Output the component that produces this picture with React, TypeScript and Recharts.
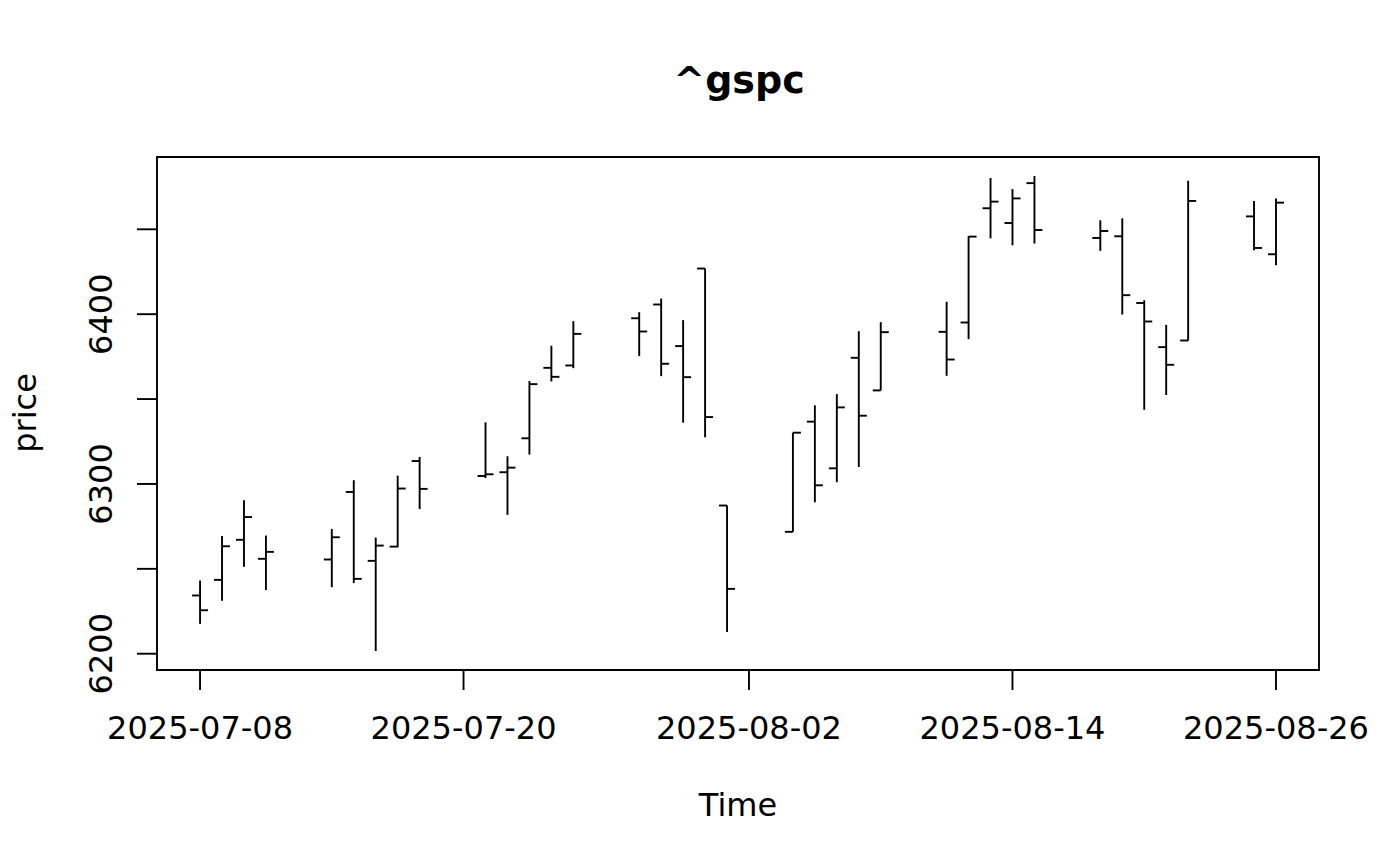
import React from 'react';
import { ComposedChart, Bar, XAxis, YAxis, ReferenceArea } from 'recharts';

// ---- data ----
const dates = [
  '2025-07-08', '2025-07-09', '2025-07-10', '2025-07-11',
  '2025-07-14', '2025-07-15', '2025-07-16', '2025-07-17', '2025-07-18',
  '2025-07-21', '2025-07-22', '2025-07-23', '2025-07-24', '2025-07-25',
  '2025-07-28', '2025-07-29', '2025-07-30', '2025-07-31', '2025-08-01',
  '2025-08-04', '2025-08-05', '2025-08-06', '2025-08-07', '2025-08-08',
  '2025-08-11', '2025-08-12', '2025-08-13', '2025-08-14', '2025-08-15',
  '2025-08-18', '2025-08-19', '2025-08-20', '2025-08-21', '2025-08-22',
  '2025-08-25', '2025-08-26',
];
const opens = [
  6234.3, 6243.5, 6267.1, 6255.9,
  6255.5, 6295.3, 6254.7, 6263.1, 6313.5,
  6304.7, 6306.9, 6326.9, 6368.4, 6369.8,
  6397.6, 6405.7, 6381.2, 6426.9, 6287.3,
  6271.8, 6336.7, 6309.2, 6374.3, 6355.1,
  6389.6, 6395.1, 6462.4, 6453.7, 6477.2,
  6444.9, 6445.9, 6406.6, 6380.6, 6384.5,
  6457.6, 6435.3,
];
const highs = [
  6243.1, 6269.4, 6290.4, 6269.6,
  6273.5, 6302.2, 6268.4, 6304.9, 6315.9,
  6336.3, 6316.3, 6360.6, 6381.4, 6395.9,
  6401.2, 6409.2, 6396.5, 6426.9, 6287.3,
  6330.2, 6346.3, 6352.9, 6390.0, 6395.3,
  6407.3, 6445.9, 6480.2, 6473.7, 6481.4,
  6455.3, 6456.5, 6408.2, 6393.7, 6478.6,
  6466.7, 6468.1,
];
const lows = [
  6217.6, 6231.2, 6251.2, 6237.5,
  6239.2, 6241.6, 6201.6, 6262.7, 6285.2,
  6303.5, 6281.8, 6317.3, 6360.4, 6368.2,
  6375.3, 6363.5, 6336.1, 6327.5, 6212.8,
  6271.8, 6289.2, 6301.0, 6310.0, 6355.1,
  6363.7, 6385.3, 6444.7, 6440.6, 6441.6,
  6437.3, 6399.8, 6343.7, 6352.4, 6384.5,
  6437.6, 6428.8,
];
const closes = [
  6225.6, 6263.3, 6280.5, 6260.0,
  6268.6, 6244.1, 6263.7, 6297.3, 6297.1,
  6305.7, 6309.6, 6358.8, 6363.1, 6388.4,
  6389.8, 6370.8, 6362.9, 6339.4, 6238.2,
  6330.2, 6299.2, 6345.1, 6340.2, 6389.4,
  6373.3, 6445.7, 6466.3, 6468.2, 6449.6,
  6449.0, 6411.2, 6395.7, 6370.2, 6466.7,
  6439.0, 6465.7,
];
const xTickDates = ['2025-07-08', '2025-07-20', '2025-08-02', '2025-08-14', '2025-08-26'];
const yTicks = [6200, 6250, 6300, 6350, 6400, 6450];
const yLabelTicks = [6200, 6300, 6400];
const titleText = '^gspc';
const xTitle = 'Time';
const yTitle = 'price';

// ---- helpers ----
const DAY = 86400000;
const toDay = (s: string) => {
  const [y, m, d] = s.split('-').map(Number);
  return Date.UTC(y, m - 1, d) / DAY;
};
const fromDay = (n: number) => new Date(Math.round(n) * DAY).toISOString().slice(0, 10);

const data = dates.map((d, i) => ({
  day: toDay(d),
  open: opens[i],
  high: highs[i],
  low: lows[i],
  close: closes[i],
}));

const dayMin = Math.min(...data.map((d) => d.day));
const dayMax = Math.max(...data.map((d) => d.day));
const xPad = (dayMax - dayMin) * 0.04;
const xDomain: [number, number] = [dayMin - xPad, dayMax + xPad];

const pMin = Math.min(...lows);
const pMax = Math.max(...highs);
const yPad = (pMax - pMin) * 0.04;
const yDomain: [number, number] = [pMin - yPad, pMax + yPad];

const FONT = '"DejaVu Sans", sans-serif';
const FS = 32;
const LW = 1.9;

const OhlcShape = (props: any) => {
  const { x, y, width, height, payload } = props;
  if (x == null || y == null || !payload) return null;
  const top = Math.min(y, y + height);
  const h = Math.abs(height);
  const cx = x + width / 2;
  const span = payload.high - payload.low || 1;
  const yOpen = top + ((payload.high - payload.open) / span) * h;
  const yClose = top + ((payload.high - payload.close) / span) * h;
  return (
    <g stroke="#000" strokeWidth={LW} fill="none">
      <line x1={cx} x2={cx} y1={top} y2={top + h} />
      <line x1={cx - 8} x2={cx} y1={yOpen} y2={yOpen} />
      <line x1={cx} x2={cx + 8} y1={yClose} y2={yClose} />
    </g>
  );
};

const XTick = (props: any) => {
  const { x, y, payload } = props;
  return (
    <text x={x} y={y + 49} textAnchor="middle" fontFamily={FONT} fontSize={FS} fill="#000">
      {fromDay(payload.value)}
    </text>
  );
};

const YTick = (props: any) => {
  const { x, y, payload } = props;
  if (!yLabelTicks.includes(payload.value)) return <g />;
  return (
    <text
      transform={`translate(${x - 25.5},${y}) rotate(-90)`}
      textAnchor="middle"
      fontFamily={FONT}
      fontSize={FS}
      fill="#000"
    >
      {payload.value}
    </text>
  );
};

export default function App() {
  return (
    <div style={{ position: 'absolute', left: 0, top: 0, width: 1400, height: 866, background: '#fff' }}>
      <ComposedChart
        width={1400}
        height={866}
        data={data}
        margin={{ top: 157, right: 81, bottom: 96, left: 77 }}
      >
        <XAxis
          dataKey="day"
          type="number"
          domain={xDomain}
          ticks={xTickDates.map(toDay)}
          interval={0}
          height={100}
          tickSize={20}
          tickMargin={0}
          axisLine={false}
          tickLine={{ stroke: '#000', strokeWidth: LW }}
          tick={(p: any) => <XTick {...p} />}
          allowDataOverflow
        />
        <YAxis
          type="number"
          domain={yDomain}
          ticks={yTicks}
          interval={0}
          width={80}
          tickSize={20}
          tickMargin={0}
          axisLine={false}
          tickLine={{ stroke: '#000', strokeWidth: LW }}
          tick={(p: any) => <YTick {...p} />}
          allowDataOverflow
        />
        <ReferenceArea
          x1={xDomain[0]}
          x2={xDomain[1]}
          y1={yDomain[0]}
          y2={yDomain[1]}
          fill="none"
          fillOpacity={0}
          stroke="#000"
          strokeWidth={LW}
          ifOverflow="visible"
        />
        <Bar
          dataKey={(d: any) => [d.low, d.high]}
          barSize={16}
          shape={(p: any) => <OhlcShape {...p} />}
          isAnimationActive={false}
        />
      </ComposedChart>
      <svg
        width={1400}
        height={866}
        style={{ position: 'absolute', left: 0, top: 0, pointerEvents: 'none' }}
      >
        <text x={739} y={93} textAnchor="middle" fontFamily={FONT} fontSize={38} fontWeight="bold" fill="#000">
          {titleText}
        </text>
        <text x={738} y={816} textAnchor="middle" fontFamily={FONT} fontSize={FS} fill="#000">
          {xTitle}
        </text>
        <text
          transform="translate(36,413) rotate(-90)"
          textAnchor="middle"
          fontFamily={FONT}
          fontSize={FS}
          fill="#000"
        >
          {yTitle}
        </text>
      </svg>
    </div>
  );
}
